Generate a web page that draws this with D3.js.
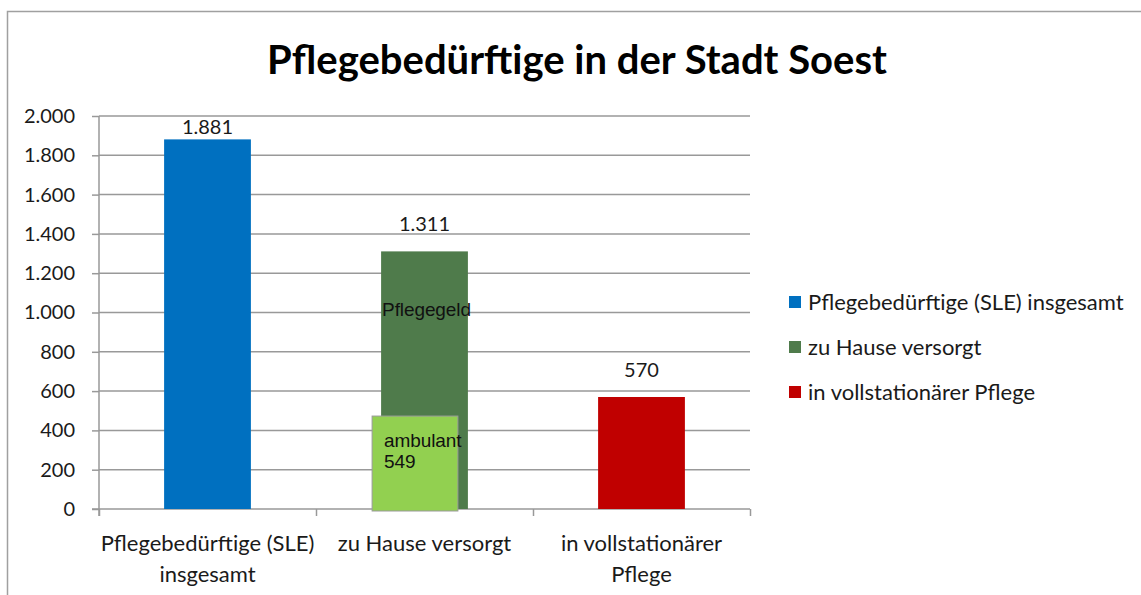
<!DOCTYPE html>
<html>
<head>
<meta charset="utf-8">
<script src="https://cdn.jsdelivr.net/npm/d3@7"></script>
<style>
  body { margin: 0; background: #fff; }
  svg { display: block; }
  text { font-family: Lato, "Open Sans", sans-serif; fill: #1a1a1a; }
  text.arial { font-family: "Liberation Sans", Arial, sans-serif; fill: #111; }
</style>
</head>
<body>
<div id="chart"></div>
<script>
// chart data
const CATEGORIES = ["Pflegebedürftige (SLE) insgesamt", "zu Hause versorgt", "in vollstationärer Pflege"];
const CATEGORY_LINES = [["Pflegebedürftige (SLE)", "insgesamt"], ["zu Hause versorgt"], ["in vollstationärer", "Pflege"]];
const VALUES = [1881, 1311, 570];
const COLORS = ["#0070C0", "#4F7B4B", "#C00000"];
const Y_TICKS = [0, 200, 400, 600, 800, 1000, 1200, 1400, 1600, 1800, 2000];

// annotation box inside the "zu Hause versorgt" bar
const AMBULANT_LABEL = ["ambulant", "549"];
const AMBULANT_HEIGHT = 473;   // drawn height of the box
const PFLEGEGELD_LABEL = "Pflegegeld";

const FRAME_WIDTH = 1141;
const FRAME_HEIGHT = 595;
const PLOT = {left: 99, right: 750, top: 116, bottom: 509};

const DE = d3.formatLocale({decimal: ",", thousands: ".", grouping: [3], currency: ["", " €"]});
const FMT = DE.format(",d");

const FRAME = d3.select("#chart")
  .append("svg")
  .attr("width", FRAME_WIDTH)
  .attr("height", FRAME_HEIGHT);

// outer chart border (left and top only visible)
FRAME.append("path")
  .attr("d", "M7.5," + FRAME_HEIGHT + "V11.5H" + FRAME_WIDTH)
  .attr("fill", "none")
  .attr("stroke", "#a0a0a0")
  .attr("stroke-width", 1.5);

// title
FRAME.append("text")
  .attr("x", 577)
  .attr("y", 74)
  .attr("text-anchor", "middle")
  .attr("font-size", "40px")
  .attr("font-weight", "bold")
  .style("fill", "#000")
  .text("Pflegebedürftige in der Stadt Soest");

const Y_SCALE = d3.scaleLinear()
  .domain([0, 2000])
  .range([PLOT.bottom, PLOT.top]);

const X_SCALE = d3.scaleBand()
  .domain(CATEGORIES)
  .range([PLOT.left, PLOT.right])
  .paddingInner(0.6)
  .paddingOuter(0.3);

// gridlines
FRAME.append("g")
  .selectAll("line")
  .data(Y_TICKS.filter((d) => d > 0))
  .enter()
  .append("line")
  .attr("x1", PLOT.left)
  .attr("x2", PLOT.right)
  .attr("y1", (d) => Y_SCALE(d))
  .attr("y2", (d) => Y_SCALE(d))
  .attr("stroke", "#999")
  .attr("stroke-width", 1.5);

// y axis
const Y_AXIS = FRAME.append("g")
  .attr("transform", "translate(" + PLOT.left + ",0)")
  .call(d3.axisLeft(Y_SCALE).tickValues(Y_TICKS).tickSize(7).tickPadding(17).tickFormat(FMT));
Y_AXIS.selectAll("line").attr("stroke", "#999").attr("stroke-width", 1.5);
Y_AXIS.select(".domain").attr("stroke", "#999").attr("stroke-width", 1.5)
  .attr("d", "M0," + (PLOT.bottom + 7) + "V" + PLOT.top);
Y_AXIS.selectAll("text").attr("font-size", "20px").style("fill", "#1a1a1a")
  .attr("font-family", "Lato, sans-serif");

// x axis with boundary ticks
const X_BOUND = d3.scaleLinear().domain([0, CATEGORIES.length]).range([PLOT.left, PLOT.right]);
const X_AXIS = FRAME.append("g")
  .attr("transform", "translate(0," + PLOT.bottom + ")")
  .call(d3.axisBottom(X_BOUND).tickValues(d3.range(CATEGORIES.length + 1)).tickSize(7).tickFormat(""));
X_AXIS.selectAll("line").attr("stroke", "#999").attr("stroke-width", 1.5);
X_AXIS.select(".domain").attr("stroke", "#999").attr("stroke-width", 1.5)
  .attr("d", "M" + (PLOT.left - 7) + ",0H" + PLOT.right);

// bars
FRAME.append("g")
  .selectAll("rect")
  .data(VALUES)
  .enter()
  .append("rect")
  .attr("x", (d, i) => X_SCALE(CATEGORIES[i]))
  .attr("y", (d) => Y_SCALE(d))
  .attr("width", X_SCALE.bandwidth())
  .attr("height", (d) => Y_SCALE(0) - Y_SCALE(d))
  .attr("fill", (d, i) => COLORS[i]);

// value labels
FRAME.append("g")
  .selectAll("text")
  .data(VALUES)
  .enter()
  .append("text")
  .attr("x", (d, i) => X_SCALE(CATEGORIES[i]) + X_SCALE.bandwidth() / 2)
  .attr("y", (d) => Math.max(Y_SCALE(d) - 20, PLOT.top + 18))
  .attr("text-anchor", "middle")
  .attr("font-size", "20px")
  .text((d) => FMT(d));

// ambulant box and inner labels
const HOME_X = X_SCALE(CATEGORIES[1]);
FRAME.append("rect")
  .attr("x", HOME_X - 9)
  .attr("y", Y_SCALE(AMBULANT_HEIGHT))
  .attr("width", X_SCALE.bandwidth() - 1)
  .attr("height", Y_SCALE(0) - Y_SCALE(AMBULANT_HEIGHT) + 2)
  .attr("fill", "#92D050")
  .attr("stroke", "#9a9a9a")
  .attr("stroke-width", 1);

FRAME.append("text")
  .attr("class", "arial")
  .attr("x", HOME_X + 1)
  .attr("y", 316)
  .attr("font-size", "19px")
  .attr("letter-spacing", "-0.1px")
  .text(PFLEGEGELD_LABEL);

FRAME.append("text")
  .attr("class", "arial")
  .attr("font-size", "19px")
  .attr("letter-spacing", "-0.1px")
  .selectAll("tspan")
  .data(AMBULANT_LABEL)
  .enter()
  .append("tspan")
  .attr("x", HOME_X + 3)
  .attr("y", (d, i) => 447 + i * 21)
  .text((d) => d);

// category labels
FRAME.append("g")
  .selectAll("text")
  .data(CATEGORY_LINES)
  .enter()
  .append("text")
  .attr("text-anchor", "middle")
  .attr("font-size", "22px")
  .each(function (lines, i) {
    d3.select(this).selectAll("tspan")
      .data(lines)
      .enter()
      .append("tspan")
      .attr("x", X_SCALE(CATEGORIES[i]) + X_SCALE.bandwidth() / 2)
      .attr("y", (d, j) => 551 + j * 31)
      .text((d) => d);
  });

// legend
const LEGEND = FRAME.append("g")
  .selectAll("g")
  .data(CATEGORIES)
  .enter()
  .append("g")
  .attr("transform", (d, i) => "translate(789," + (302 + i * 45) + ")");
LEGEND.append("rect")
  .attr("x", 0)
  .attr("y", -6)
  .attr("width", 12)
  .attr("height", 12)
  .attr("fill", (d, i) => COLORS[i]);
LEGEND.append("text")
  .attr("x", 19)
  .attr("y", 8)
  .attr("font-size", "22px")
  .text((d) => d);
</script>
</body>
</html>
